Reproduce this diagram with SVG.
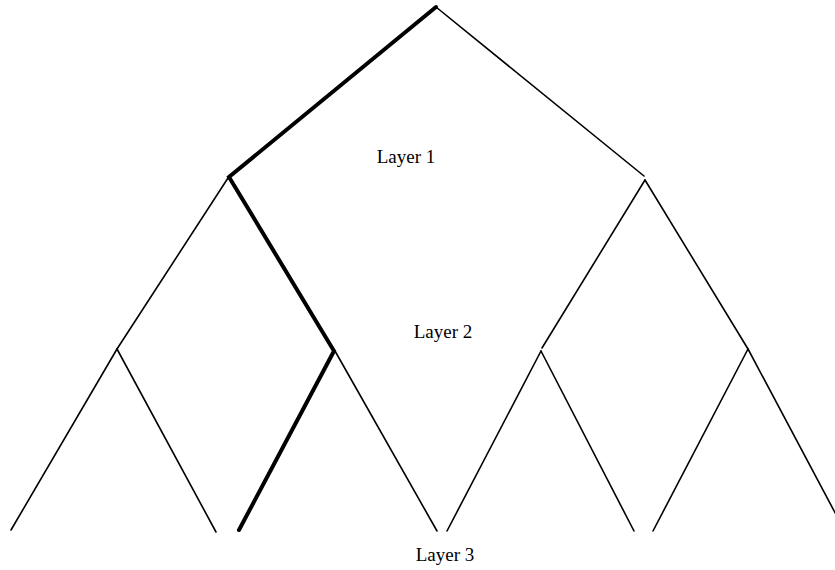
<svg xmlns="http://www.w3.org/2000/svg" width="835" height="570" viewBox="0 0 835 570">
<style>
.e{stroke:#000;stroke-width:1.6;fill:none;stroke-linecap:round}
.t{stroke:#000;stroke-width:4;fill:none;stroke-linecap:round}
.l{font-family:"Liberation Serif","Times New Roman",serif;font-size:19px;fill:#000}
</style>
<rect width="835" height="570" fill="#fff"/>
<g id="connectors">
<line class="e" x1="436" y1="7" x2="644" y2="176"/>
<line class="e" x1="228" y1="178" x2="117" y2="349"/>
<line class="e" x1="117" y1="349" x2="11" y2="530"/>
<line class="e" x1="117" y1="349" x2="216" y2="532"/>
<line class="e" x1="335" y1="351" x2="437" y2="531"/>
<line class="e" x1="645" y1="180" x2="542" y2="348"/>
<line class="e" x1="645" y1="180" x2="748" y2="349"/>
<line class="e" x1="541" y1="351" x2="447" y2="531"/>
<line class="e" x1="541" y1="351" x2="634" y2="531"/>
<line class="e" x1="748" y1="349" x2="653" y2="531"/>
<line class="e" x1="748" y1="349" x2="840" y2="522"/>
<path class="t" d="M436,7 L229,177 L334,351 L239,530"/>
</g>
<g id="layer1"><text class="l" x="406" y="163" text-anchor="middle">Layer 1</text></g>
<g id="layer2"><text class="l" x="443" y="338" text-anchor="middle">Layer 2</text></g>
<g id="layer3"><text class="l" x="445" y="561" text-anchor="middle">Layer 3</text></g>
</svg>
